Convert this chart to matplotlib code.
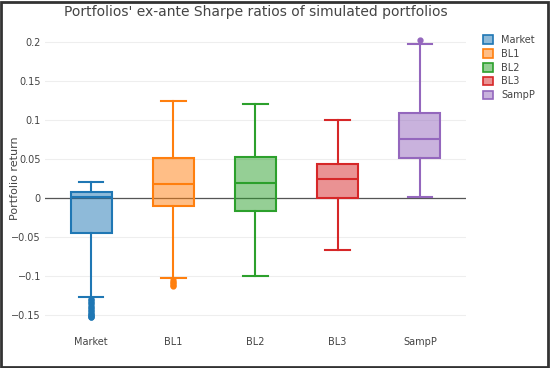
import numpy as np
import matplotlib.pyplot as plt
from matplotlib.colors import to_rgba
from matplotlib.patches import Rectangle, Patch

plt.rcParams.update({'font.family': 'DejaVu Sans', 'font.size': 7})

names = ['Market', 'BL1', 'BL2', 'BL3', 'SampP']
colors = ['#1f77b4', '#ff7f0e', '#2ca02c', '#d62728', '#9467bd']
q1 = [-0.045, -0.010, -0.017, 0.000, 0.051]
med = [0.001, 0.018, 0.019, 0.025, 0.076]
q3 = [0.008, 0.051, 0.053, 0.044, 0.109]
lo = [-0.127, -0.103, -0.100, -0.066, 0.001]
hi = [0.020, 0.124, 0.120, 0.100, 0.197]
fliers = [
    [-0.129, -0.131, -0.133, -0.135, -0.137, -0.139, -0.141, -0.143, -0.145,
     -0.147, -0.149, -0.150, -0.151, -0.152, -0.153],
    [-0.105, -0.107, -0.109, -0.111, -0.113],
    [],
    [],
    [0.202],
]

fig = plt.figure(figsize=(5.5, 3.68), dpi=100)
ax = fig.add_axes([0.082, 0.095, 0.765, 0.81])

for i in range(len(names)):
    st = dict(med=med[i], q1=q1[i], q3=q3[i], whislo=lo[i], whishi=hi[i],
              fliers=fliers[i], label=names[i])
    c = colors[i]
    r = ax.bxp([st], positions=[i], widths=0.5, patch_artist=True,
               boxprops=dict(facecolor=to_rgba(c, 0.5), edgecolor=c, linewidth=1.5),
               medianprops=dict(color=c, linewidth=1.5),
               whiskerprops=dict(color=c, linewidth=1.5),
               capprops=dict(color=c, linewidth=1.5),
               flierprops=dict(marker='o', markersize=3.5, markerfacecolor=c, markeredgecolor=c),
               capwidths=0.3, showfliers=True)
    for b in r['boxes']:
        b.set_facecolor(to_rgba(c, 0.5))
        b.set_edgecolor(c)
    for m in r['medians']:
        m.set_zorder(3)

handles = [Patch(facecolor=to_rgba(c, 0.5), edgecolor=c, linewidth=1.2, label=n)
           for n, c in zip(names, colors)]

ax.set_xlim(-0.56, 4.56)
ax.set_ylim(-0.173, 0.209)
ax.set_yticks([-0.15, -0.1, -0.05, 0, 0.05, 0.1, 0.15, 0.2])
ax.set_yticklabels(['\u22120.15', '\u22120.1', '\u22120.05', '0', '0.05', '0.1', '0.15', '0.2'])
ax.set_xticks(range(len(names)))
ax.set_xticklabels(names)
ax.grid(axis='y', color='#eeeeee', linewidth=0.8, zorder=0)
ax.set_axisbelow(True)
ax.axhline(0, color='#555555', linewidth=0.9, zorder=1)
for s in ax.spines.values():
    s.set_visible(False)
ax.tick_params(length=0, colors='#444444')
ax.tick_params(axis='y', pad=3)
ax.tick_params(axis='x', pad=3)
ax.set_ylabel('Portfolio return', fontsize=8, color='#444444')
ax.yaxis.set_label_coords(-0.06, 0.52)
ax.set_title("Portfolios' ex-ante Sharpe ratios of simulated portfolios",
             fontsize=10, color='#444444', pad=14)

ax.legend(handles=handles, loc='upper left', bbox_to_anchor=(1.02, 1.03), frameon=False,
          handlelength=1.0, handleheight=1.0, handletextpad=0.9, labelspacing=0.4,
          labelcolor='#444444')

fig.patches.append(Rectangle((0.002, 0.004), 0.994, 0.99, transform=fig.transFigure,
                             fill=False, edgecolor='#333333', linewidth=2))
fig.savefig('out.png', dpi=100)
